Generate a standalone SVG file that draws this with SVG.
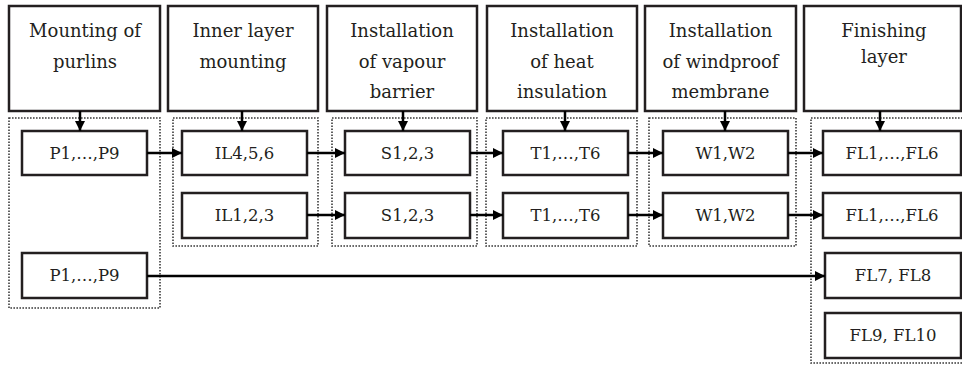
<svg xmlns="http://www.w3.org/2000/svg" width="962" height="367" viewBox="0 0 962 367">
<style>
.box{fill:#fff;stroke:#231f20;stroke-width:2.5}
.grp{fill:none;stroke:#3a3a3a;stroke-width:1.6;stroke-dasharray:1.6 1.4}
.h{font-family:"DejaVu Serif","Liberation Serif",serif;font-size:18px;fill:#231f20;text-anchor:middle}
.t{font-family:"DejaVu Serif","Liberation Serif",serif;font-size:16.5px;fill:#231f20;text-anchor:middle}
.c{stroke:#000;stroke-width:2.5;fill:none}
</style>
<defs>
<marker id="ah" markerWidth="10" markerHeight="10" refX="10" refY="5" orient="auto" markerUnits="userSpaceOnUse">
<path d="M0,0 L10,5 L0,10 Z" fill="#000"/>
</marker>
</defs>
<rect width="962" height="367" fill="#fff"/>
<g id="groups">
<rect class="grp" x="9" y="118" width="151" height="190"/>
<rect class="grp" x="173" y="118" width="145" height="128"/>
<rect class="grp" x="332" y="118" width="145" height="128"/>
<rect class="grp" x="486" y="118" width="151" height="128"/>
<rect class="grp" x="649" y="118" width="147" height="128"/>
<rect class="grp" x="811" y="118" width="160" height="245"/>
</g>
<g id="h1"><rect class="box" x="9" y="6" width="151" height="105"/><text class="h" x="85" y="37">Mounting of</text><text class="h" x="85" y="68">purlins</text></g>
<g id="h2"><rect class="box" x="168" y="6" width="150" height="105"/><text class="h" x="243" y="37">Inner layer</text><text class="h" x="243" y="68">mounting</text></g>
<g id="h3"><rect class="box" x="327" y="6" width="150" height="105"/><text class="h" x="402" y="37">Installation</text><text class="h" x="402" y="67.5">of vapour</text><text class="h" x="402" y="98">barrier</text></g>
<g id="h4"><rect class="box" x="487" y="6" width="150" height="105"/><text class="h" x="562" y="37">Installation</text><text class="h" x="562" y="67.5">of heat</text><text class="h" x="562" y="98">insulation</text></g>
<g id="h5"><rect class="box" x="645" y="6" width="151" height="105"/><text class="h" x="720.5" y="37">Installation</text><text class="h" x="720.5" y="67.5">of windproof</text><text class="h" x="720.5" y="98">membrane</text></g>
<g id="h6"><rect class="box" x="804" y="6" width="157" height="105"/><text class="h" x="884" y="37">Finishing</text><text class="h" x="884" y="63">layer</text></g>
<g id="p1"><rect class="box" x="22" y="131" width="125" height="44"/><text class="t" x="84.5" y="159">P1,…,P9</text></g>
<g id="il456"><rect class="box" x="182" y="131" width="125" height="44"/><text class="t" x="244.5" y="159">IL4,5,6</text></g>
<g id="s1"><rect class="box" x="345" y="131" width="125" height="44"/><text class="t" x="407.5" y="159">S1,2,3</text></g>
<g id="t1"><rect class="box" x="503" y="131" width="125" height="44"/><text class="t" x="565.5" y="159">T1,…,T6</text></g>
<g id="w1"><rect class="box" x="663" y="131" width="125" height="44"/><text class="t" x="725.5" y="159">W1,W2</text></g>
<g id="fl1"><rect class="box" x="823" y="131" width="138" height="44"/><text class="t" x="892" y="159">FL1,…,FL6</text></g>
<g id="il123"><rect class="box" x="182" y="193" width="125" height="45"/><text class="t" x="244.5" y="221">IL1,2,3</text></g>
<g id="s2"><rect class="box" x="345" y="193" width="125" height="45"/><text class="t" x="407.5" y="221">S1,2,3</text></g>
<g id="t2"><rect class="box" x="503" y="193" width="125" height="45"/><text class="t" x="565.5" y="221">T1,…,T6</text></g>
<g id="w2"><rect class="box" x="663" y="193" width="125" height="45"/><text class="t" x="725.5" y="221">W1,W2</text></g>
<g id="fl2"><rect class="box" x="823" y="193" width="138" height="45"/><text class="t" x="892" y="221">FL1,…,FL6</text></g>
<g id="p2"><rect class="box" x="22" y="253" width="125" height="45"/><text class="t" x="84.5" y="281">P1,…,P9</text></g>
<g id="fl7"><rect class="box" x="825" y="253" width="136" height="45"/><text class="t" x="893" y="281">FL7, FL8</text></g>
<g id="fl9"><rect class="box" x="825" y="313" width="136" height="45"/><text class="t" x="893" y="341">FL9, FL10</text></g>
<g id="connectors">
<line class="c" x1="80" y1="111" x2="80" y2="131" marker-end="url(#ah)"/>
<line class="c" x1="242" y1="111" x2="242" y2="131" marker-end="url(#ah)"/>
<line class="c" x1="403" y1="111" x2="403" y2="131" marker-end="url(#ah)"/>
<line class="c" x1="565" y1="111" x2="565" y2="131" marker-end="url(#ah)"/>
<line class="c" x1="725" y1="111" x2="725" y2="131" marker-end="url(#ah)"/>
<line class="c" x1="880" y1="111" x2="880" y2="131" marker-end="url(#ah)"/>
<line class="c" x1="147" y1="153" x2="182" y2="153" marker-end="url(#ah)"/>
<line class="c" x1="307" y1="153" x2="345" y2="153" marker-end="url(#ah)"/>
<line class="c" x1="470" y1="153" x2="503" y2="153" marker-end="url(#ah)"/>
<line class="c" x1="628" y1="153" x2="663" y2="153" marker-end="url(#ah)"/>
<line class="c" x1="788" y1="153" x2="823" y2="153" marker-end="url(#ah)"/>
<line class="c" x1="307" y1="215" x2="345" y2="215" marker-end="url(#ah)"/>
<line class="c" x1="470" y1="215" x2="503" y2="215" marker-end="url(#ah)"/>
<line class="c" x1="628" y1="215" x2="663" y2="215" marker-end="url(#ah)"/>
<line class="c" x1="788" y1="215" x2="823" y2="215" marker-end="url(#ah)"/>
<line class="c" x1="147" y1="276" x2="825" y2="276" marker-end="url(#ah)"/>
</g>
</svg>
